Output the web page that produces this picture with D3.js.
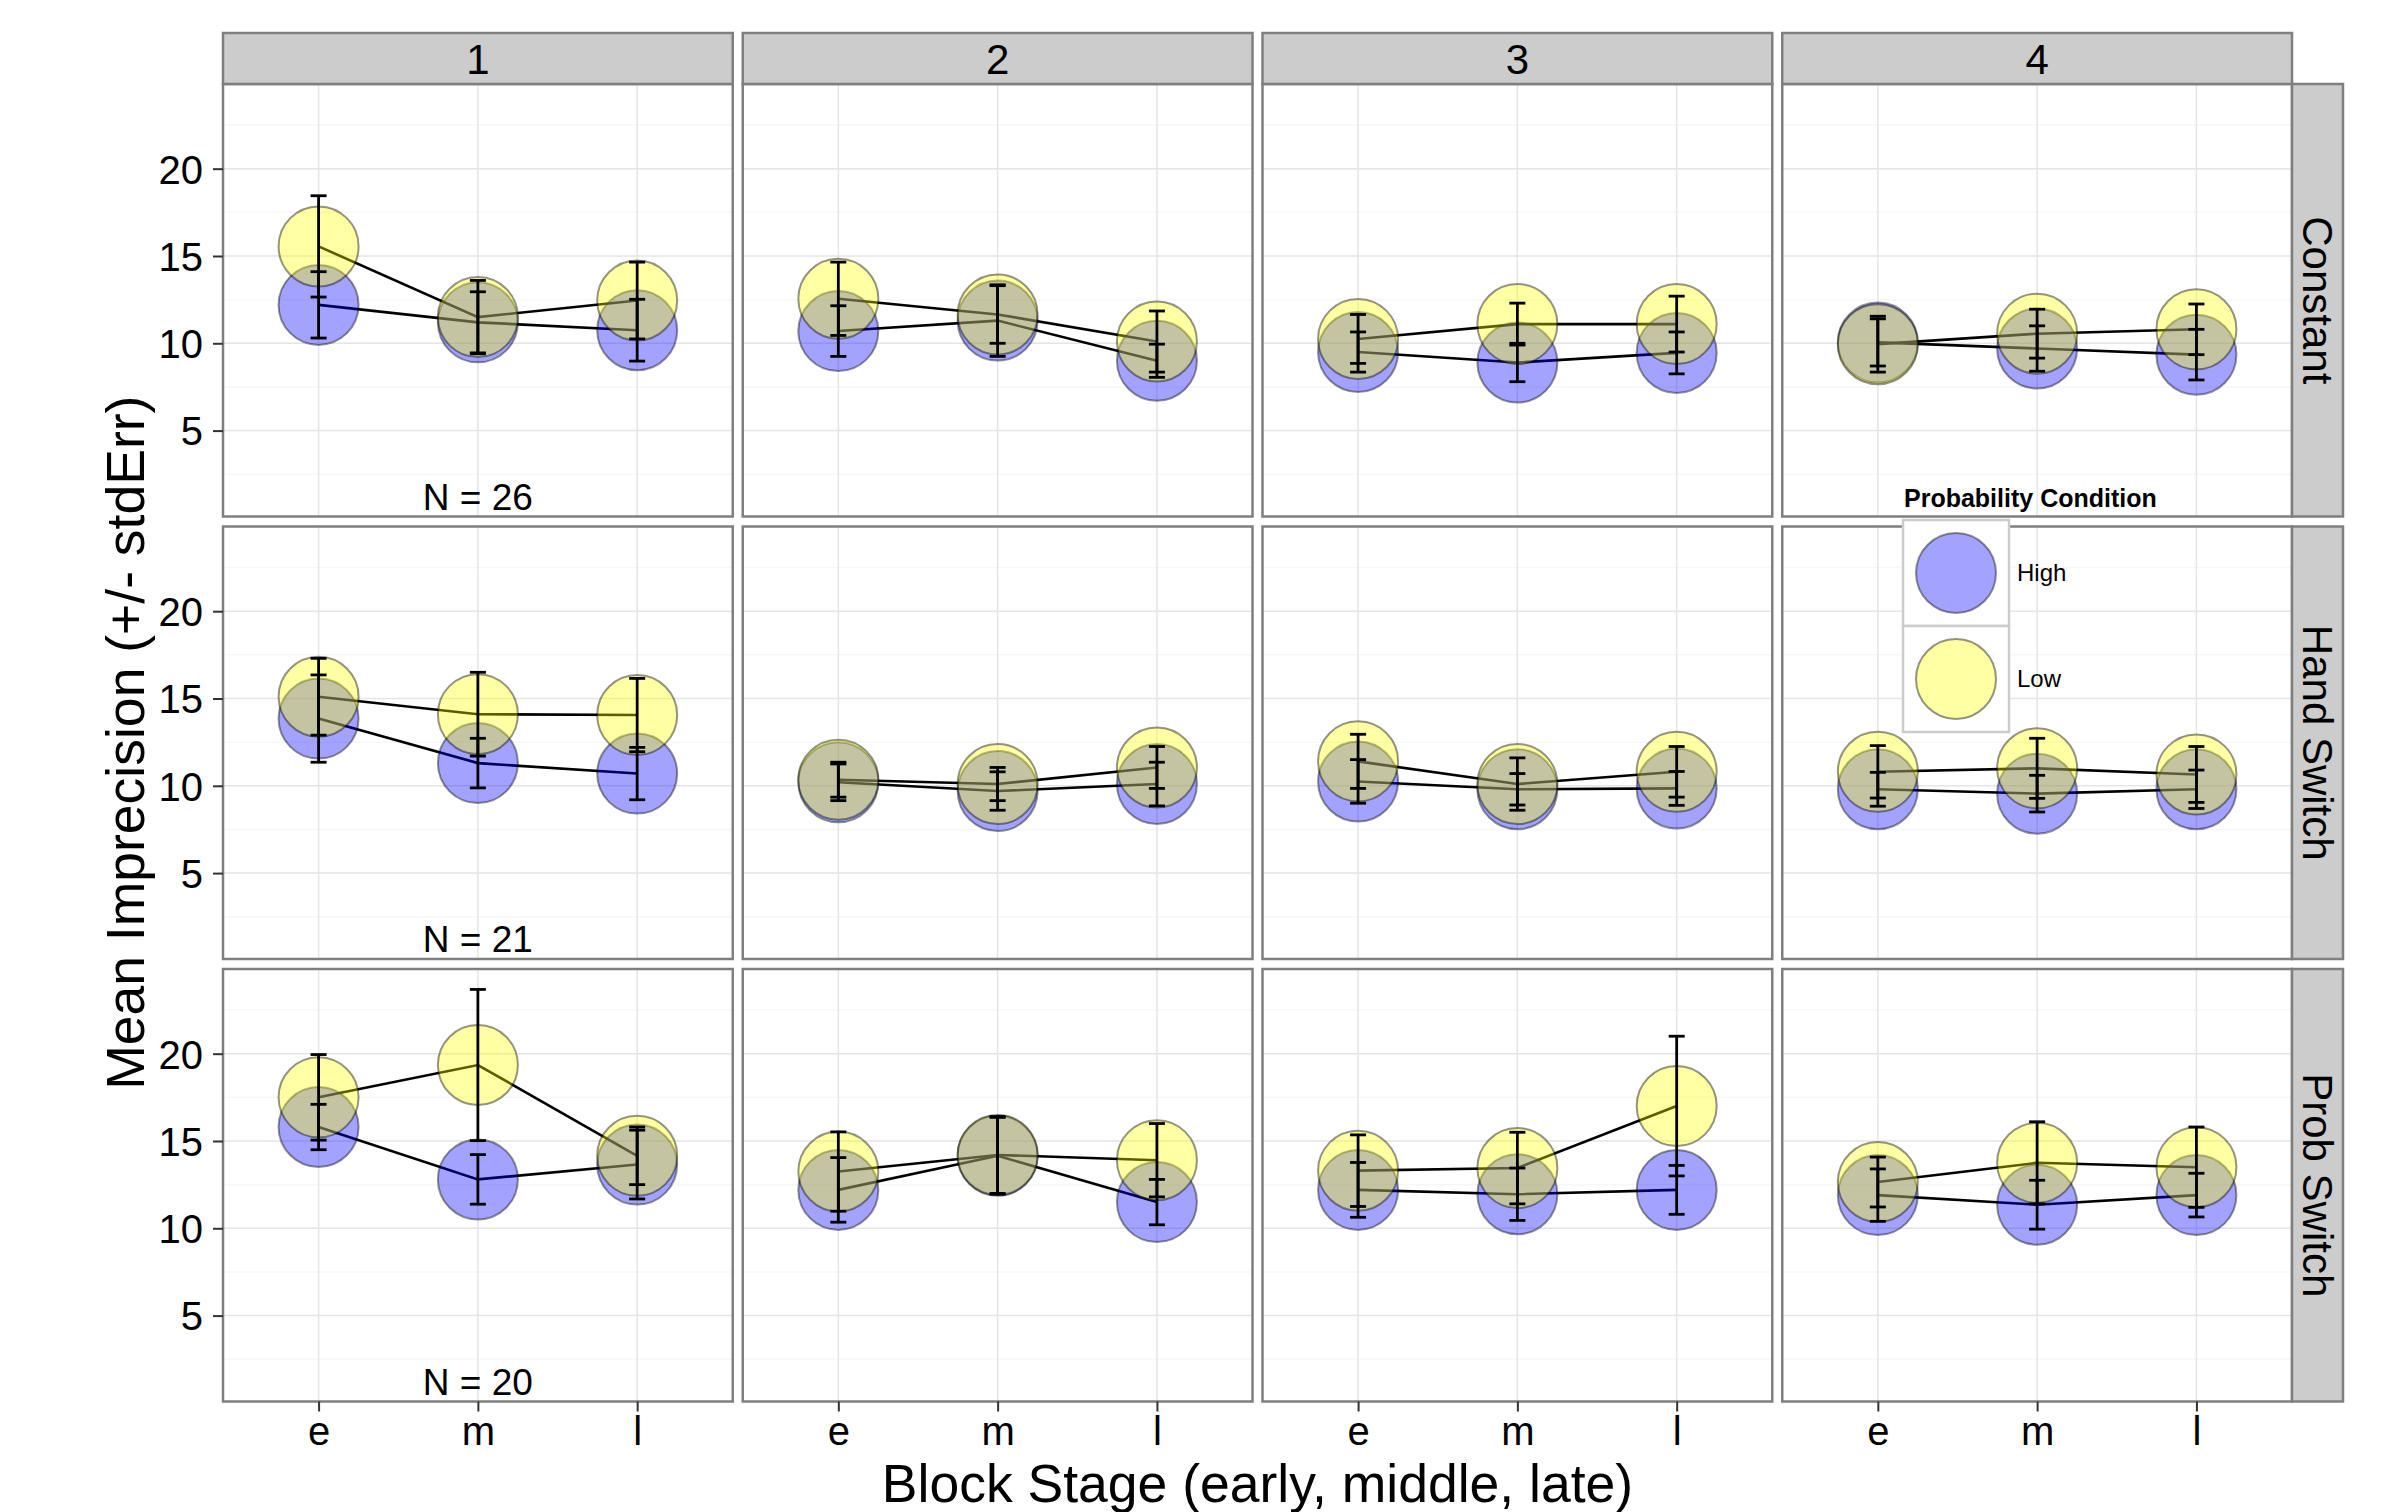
<!DOCTYPE html>
<html>
<head>
<meta charset="utf-8">
<script src="https://cdn.jsdelivr.net/npm/d3@7/dist/d3.min.js"></script>
<style>
  body { margin: 0; background: #fff; }
  text { font-family: "Liberation Sans", Arial, Helvetica, sans-serif; }
</style>
</head>
<body>
<svg id="chart" width="2384" height="1512"></svg>
<script>
// facet levels
var sessions = ["1", "2", "3", "4"];
var blockTypes = ["Constant", "Hand Switch", "Prob Switch"];
var stages = ["e", "m", "l"];
var conditions = ["High", "Low"];
var yTicks = [5, 10, 15, 20];
var yMinor = [2.5, 7.5, 12.5, 17.5, 22.5];
var nLabels = ["N = 26", "N = 21", "N = 20"];
var nLabelY = 1.2;

// means / std errors, indexed [blockType][session][stage]
var highMean = [
    [[12.2, 11.2, 10.75], [10.7, 11.3, 9.0], [9.5, 8.9, 9.45], [10.05, 9.7, 9.35]],
    [[13.85, 11.3, 10.7], [10.2, 9.7, 10.1], [10.25, 9.8, 9.85], [9.8, 9.55, 9.8]],
    [[15.8, 12.8, 13.65], [12.2, 14.15, 11.5], [12.2, 11.95, 12.2], [11.9, 11.35, 11.9]]
];
var highSe = [
    [[1.9, 1.75, 1.77], [1.45, 2.05, 0.95], [1.15, 1.1, 1.2], [1.35, 1.3, 1.45]],
    [[2.5, 1.42, 1.5], [1.05, 1.1, 1.25], [1.25, 0.9, 0.97], [0.97, 1.05, 1.1]],
    [[1.3, 1.42, 1.97], [1.85, 2.2, 1.3], [1.57, 1.5, 1.4], [1.5, 1.4, 1.25]]
];
var lowMean = [
    [[15.55, 11.5, 12.45], [12.55, 11.65, 10.1], [10.25, 11.1, 11.1], [9.95, 10.55, 10.8]],
    [[15.1, 14.1, 14.05], [10.35, 10.1, 11.05], [11.4, 10.1, 10.8], [10.8, 11.0, 10.65]],
    [[17.5, 19.35, 14.15], [13.25, 14.2, 13.9], [13.3, 13.45, 17.0], [12.65, 13.75, 13.5]]
];
var lowSe = [
    [[2.9, 2.1, 2.2], [2.1, 1.65, 1.75], [1.4, 1.2, 1.6], [1.6, 1.4, 1.45]],
    [[2.2, 2.4, 2.1], [1.0, 0.95, 1.2], [1.55, 1.5, 1.45], [1.5, 1.72, 1.6]],
    [[2.45, 4.33, 1.65], [2.27, 2.2, 2.1], [2.05, 2.05, 4.0], [1.43, 2.35, 2.3]]
];

var svg = d3.select("#chart");
svg.append("rect").attr("width", 2384).attr("height", 1512).attr("fill", "white");

// layout
var plotLeft = 223, plotTop = 84;
var panelW = 509.75, panelH = 432.5, gap = 10;
var stripTop = 33, stripW = 51;

var x = d3.scalePoint().domain(stages).range([0, panelW]).padding(0.6);
var y = d3.scaleLinear().domain([0.08, 24.85]).range([panelH, 0]);
var fill = d3.scaleOrdinal().domain(conditions).range(["#0000ff", "#ffff00"]);

function panelX(c) { return plotLeft + c * (panelW + gap); }
function panelY(r) { return plotTop + r * (panelH + gap); }

function series(r, c, cond) {
    var m = cond == "High" ? highMean : lowMean;
    var s = cond == "High" ? highSe : lowSe;
    return stages.map(function(st, i) {
        return {stage: st, mean: m[r][c][i], se: s[r][c][i], cond: cond};
    });
}

var line = d3.line().x(function(d) { return x(d.stage); }).y(function(d) { return y(d.mean); });

blockTypes.forEach(function(bt, r) {
    sessions.forEach(function(ses, c) {
        var g = svg.append("g").attr("transform", "translate(" + panelX(c) + "," + panelY(r) + ")");

        // grid
        g.selectAll("line.minor").data(yMinor).enter().append("line")
            .attr("x1", 0).attr("x2", panelW)
            .attr("y1", function(d) { return y(d); }).attr("y2", function(d) { return y(d); })
            .attr("stroke", "#f7f7f7").attr("stroke-width", 1.5);
        g.selectAll("line.major").data(yTicks).enter().append("line")
            .attr("x1", 0).attr("x2", panelW)
            .attr("y1", function(d) { return y(d); }).attr("y2", function(d) { return y(d); })
            .attr("stroke", "#e5e5e5").attr("stroke-width", 1.5);
        g.selectAll("line.vgrid").data(stages).enter().append("line")
            .attr("x1", function(d) { return x(d); }).attr("x2", function(d) { return x(d); })
            .attr("y1", 0).attr("y2", panelH)
            .attr("stroke", "#e5e5e5").attr("stroke-width", 1.5);

        var data = conditions.map(function(cond) { return series(r, c, cond); });

        // connecting lines, under the points
        g.selectAll("path.trend").data(data).enter().append("path")
            .attr("d", line)
            .attr("fill", "none").attr("stroke", "black").attr("stroke-width", 2.6);

        // points (High first, Low on top)
        data.forEach(function(s) {
            g.selectAll(null).data(s).enter().append("circle")
                .attr("cx", function(d) { return x(d.stage); })
                .attr("cy", function(d) { return y(d.mean); })
                .attr("r", 40)
                .attr("fill", function(d) { return fill(d.cond); })
                .attr("fill-opacity", 0.36)
                .attr("stroke", "black").attr("stroke-opacity", 0.42).attr("stroke-width", 2);
        });

        // error bars
        data.forEach(function(s) {
            var eb = g.selectAll(null).data(s).enter().append("g")
                .attr("stroke", "black").attr("stroke-width", 2.8);
            eb.append("line")
                .attr("x1", function(d) { return x(d.stage); }).attr("x2", function(d) { return x(d.stage); })
                .attr("y1", function(d) { return y(d.mean - d.se); })
                .attr("y2", function(d) { return y(d.mean + d.se); });
            eb.append("line")
                .attr("x1", function(d) { return x(d.stage) - 8; }).attr("x2", function(d) { return x(d.stage) + 8; })
                .attr("y1", function(d) { return y(d.mean + d.se); }).attr("y2", function(d) { return y(d.mean + d.se); });
            eb.append("line")
                .attr("x1", function(d) { return x(d.stage) - 8; }).attr("x2", function(d) { return x(d.stage) + 8; })
                .attr("y1", function(d) { return y(d.mean - d.se); }).attr("y2", function(d) { return y(d.mean - d.se); });
        });

        if (c == 0) {
            g.append("text")
                .attr("x", x("m")).attr("y", y(nLabelY)).attr("dy", "0.34em")
                .attr("text-anchor", "middle").attr("font-size", 37)
                .text(nLabels[r]);
        }

        g.append("rect").attr("width", panelW).attr("height", panelH)
            .attr("fill", "none").attr("stroke", "#7f7f7f").attr("stroke-width", 2.5);

        // y axis on the left column
        if (c == 0) {
            var ya = g.append("g").call(d3.axisLeft(y).tickValues(yTicks).tickSize(10).tickPadding(10));
            ya.select(".domain").remove();
            ya.selectAll("line").attr("stroke", "#333").attr("stroke-width", 2);
            ya.selectAll("text").attr("font-size", 40).attr("fill", "black")
                .attr("font-family", "Liberation Sans, Arial, sans-serif").attr("dy", "0.36em");
        }
        // x axis on the bottom row
        if (r == blockTypes.length - 1) {
            var xa = g.append("g").attr("transform", "translate(0," + panelH + ")")
                .call(d3.axisBottom(x).tickSize(10).tickPadding(5));
            xa.select(".domain").remove();
            xa.selectAll("line").attr("stroke", "#333").attr("stroke-width", 2);
            xa.selectAll("text").attr("font-size", 40).attr("fill", "black")
                .attr("font-family", "Liberation Sans, Arial, sans-serif");
        }
    });
});

// top strips
sessions.forEach(function(ses, c) {
    svg.append("rect")
        .attr("x", panelX(c)).attr("y", stripTop).attr("width", panelW).attr("height", plotTop - stripTop)
        .attr("fill", "#cccccc").attr("stroke", "#7f7f7f").attr("stroke-width", 2.5);
    svg.append("text")
        .attr("x", panelX(c) + panelW / 2).attr("y", (stripTop + plotTop) / 2 + 15)
        .attr("text-anchor", "middle").attr("font-size", 42)
        .text(ses);
});

// right strips
var stripX = panelX(sessions.length - 1) + panelW;
blockTypes.forEach(function(bt, r) {
    svg.append("rect")
        .attr("x", stripX).attr("y", panelY(r)).attr("width", stripW).attr("height", panelH)
        .attr("fill", "#cccccc").attr("stroke", "#7f7f7f").attr("stroke-width", 2.5);
    svg.append("text")
        .attr("transform", "translate(" + (stripX + stripW / 2 - 15) + "," + (panelY(r) + panelH / 2) + ") rotate(90)")
        .attr("text-anchor", "middle").attr("font-size", 42)
        .text(bt);
});

// axis titles
var plotRight = stripX;
svg.append("text")
    .attr("x", (plotLeft + plotRight) / 2).attr("y", 1502)
    .attr("text-anchor", "middle").attr("font-size", 53.5)
    .text("Block Stage (early, middle, late)");
svg.append("text")
    .attr("transform", "translate(144," + (panelY(0) + panelY(2) + panelH) / 2 + ") rotate(-90)")
    .attr("text-anchor", "middle").attr("font-size", 53.5)
    .text("Mean Imprecision (+/- stdErr)");

// legend
var legX = 1903, legY = 520, keySize = 106;
var legend = svg.append("g");
legend.append("text")
    .attr("x", legX + 1).attr("y", 507)
    .attr("font-size", 25).attr("font-weight", "bold")
    .text("Probability Condition");
conditions.forEach(function(cond, i) {
    var ky = legY + i * keySize;
    legend.append("rect")
        .attr("x", legX).attr("y", ky).attr("width", keySize).attr("height", keySize)
        .attr("fill", "white").attr("stroke", "#cccccc").attr("stroke-width", 2.5);
    legend.append("circle")
        .attr("cx", legX + keySize / 2).attr("cy", ky + keySize / 2).attr("r", 40)
        .attr("fill", fill(cond)).attr("fill-opacity", 0.36)
        .attr("stroke", "black").attr("stroke-opacity", 0.42).attr("stroke-width", 2);
    legend.append("text")
        .attr("x", legX + keySize + 8).attr("y", ky + keySize / 2 + 8)
        .attr("font-size", 24)
        .text(cond);
});
</script>
</body>
</html>
